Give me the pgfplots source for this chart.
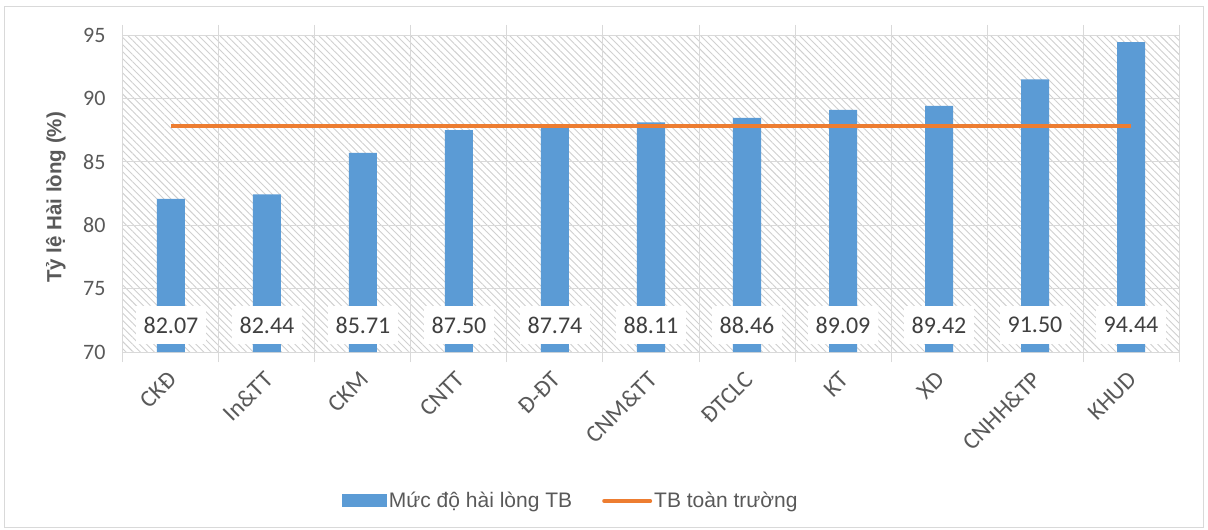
\documentclass[border=0pt]{standalone}
\usepackage{pgfplots}
\pgfplotsset{compat=1.18}
\usepackage{fontspec}
\setmainfont{Carlito}
\newfontfamily\arialf{Liberation Sans}
\usetikzlibrary{patterns.meta}
\definecolor{barblue}{HTML}{5B9BD5}
\definecolor{lineor}{HTML}{ED7D31}
\definecolor{gridc}{HTML}{D9D9D9}
\definecolor{txt}{HTML}{595959}
\definecolor{lbl}{HTML}{404040}
\definecolor{hatch}{HTML}{D0D0D0}
\begin{document}
\begin{tikzpicture}[x=1pt,y=1pt]
\path[fill=white] (-123,-178) rectangle (1085,352);
\draw[gridc, line width=1pt, fill=white] (-118,-175) rectangle (1080,345);
\begin{axis}[
  at={(0,0)}, anchor=south west,
  scale only axis, width=1056pt, height=317pt,
  xmin=-0.5, xmax=10.5, ymin=70, ymax=95,
  ytick={70,75,...,95},
  xtick={0,...,10},
  xticklabels={CKĐ,In\&TT,CKM,CNTT,Đ-ĐT,CNM\&TT,ĐTCLC,KT,XD,CNHH\&TP,KHUD},
  minor xtick={-0.5,0.5,...,10.5},
  xminorgrids, ymajorgrids,
  grid style={gridc, line width=1pt},
  minor grid style={gridc, line width=1pt},
  axis line style={gridc, line width=1pt},
  tick align=outside,
  major tick length=0pt,
  minor tick length=10pt,
  minor tick style={gridc, line width=1pt},
  /pgf/number format/assume math mode=true,
  axis background/.style={pattern={Lines[angle=-45,distance=5pt,line width=0.9pt]}, pattern color=hatch},
  yticklabel style={font=\fontsize{22}{26}\selectfont, text=txt, anchor=east, xshift=-14pt},
  xticklabel style={font=\fontsize{24}{28}\selectfont, text=txt, rotate=45, anchor=east, yshift=-18pt, xshift=-12pt},
  ylabel={\arialf\bfseries\fontsize{20.5}{25}\selectfont Tỷ lệ Hài lòng (\%)},
  every axis y label/.style={at={(axis description cs:0,0.5)}, xshift=-67pt, yshift=-4pt, rotate=90, anchor=center, text=txt},
  legend style={at={(axis description cs:0.424,-0.47)}, anchor=center, draw=none, fill=none, legend columns=2, font=\arialf\fontsize{21}{25}\selectfont, text=txt, /tikz/every even column/.append style={column sep=28pt}},
  legend cell align=left,
]
\addplot[ybar, bar width=28pt, fill=barblue, draw=none,
  legend image code/.code={\fill[barblue] (0pt,-6pt) rectangle (45pt,7pt);}]
  coordinates {(0,82.07) (1,82.44) (2,85.71) (3,87.50) (4,87.74) (5,88.11) (6,88.46) (7,89.09) (8,89.42) (9,91.50) (10,94.44)};
\addlegendentry{Mức độ hài lòng TB}
\addplot[draw=none, mark=none, nodes near coords, point meta=explicit symbolic,
  nodes near coords style={fill=white, inner sep=0pt, minimum width=70pt, minimum height=38pt, font=\fontsize{24}{28}\selectfont, text=lbl, anchor=center}, forget plot]
  table[meta=v] {
x y v
0 72.13 82.07
1 72.13 82.44
2 72.13 85.71
3 72.13 87.50
4 72.13 87.74
5 72.13 88.11
6 72.13 88.46
7 72.13 89.09
8 72.13 89.42
9 72.13 91.50
10 72.13 94.44
};
\addplot[lineor, line width=4pt, mark=none,
  legend image code/.code={\draw[lineor, line width=4pt, line cap=round] (0pt,0pt) -- (46pt,0pt);}]
  coordinates {(0,87.85) (1,87.85) (2,87.85) (3,87.85) (4,87.85) (5,87.85) (6,87.85) (7,87.85) (8,87.85) (9,87.85) (10,87.85)};
\addlegendentry{TB toàn trường}
\end{axis}
\end{tikzpicture}
\end{document}
